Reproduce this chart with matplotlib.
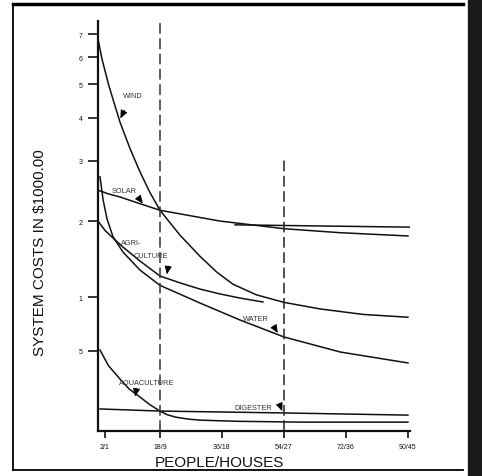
import numpy as np
import matplotlib
matplotlib.use("Agg")
import matplotlib.pyplot as plt
from matplotlib.lines import Line2D
from matplotlib.patches import Rectangle

plt.rcParams['font.family'] = ['Liberation Sans', 'DejaVu Sans']

# people on the x axis, cost (in $1000) on the y axis
wind_x = [0, 1.16, 3.19, 6.39, 9.3, 12.2, 15, 18, 23.8, 29.6, 34.5, 39.2, 46, 54, 64.5, 77, 90]
wind_y = [6.77, 5.92, 4.94, 3.88, 3.25, 2.78, 2.43, 2.15, 1.82, 1.58, 1.42, 1.31, 1.22, 1.16, 1.11, 1.07, 1.05]

solar_x = [0, 3, 6.4, 12, 18, 35.4, 54, 70.3, 90]
solar_y = [2.46, 2.40, 2.35, 2.25, 2.15, 2.00, 1.90, 1.85, 1.81]
solar2_x = [39.8, 90.6]
solar2_y = [1.95, 1.92]

water_x = [0.58, 1.5, 2.61, 4.36, 7.26, 12.2, 18, 29.6, 41.2, 54, 70.3, 90]
water_y = [2.69, 2.30, 2.03, 1.80, 1.625, 1.44, 1.30, 1.155, 1.031, 0.92, 0.832, 0.773]

agri_x = [0, 2, 4.36, 7.26, 12.2, 18, 24, 29.6, 35, 41.2, 47.9]
agri_y = [2.0, 1.88, 1.785, 1.68, 1.53, 1.384, 1.32, 1.268, 1.23, 1.194, 1.163]

aqua_x = [0.58, 3, 6.39, 9, 12.2, 15, 18, 20, 22.4, 26, 29.6, 40, 58.7, 90]
aqua_y = [0.843, 0.76, 0.694, 0.65, 0.615, 0.585, 0.560, 0.547, 0.538, 0.531, 0.527, 0.523, 0.520, 0.520]

dig_x = [0.58, 18, 54, 90]
dig_y = [0.568, 0.560, 0.553, 0.545]

xtick_vals = [2, 18, 36, 54, 72, 90]
xtick_labels = ['2/1', '18/9', '36/18', '54/27', '72/36', '90/45']
ytick_vals = [7, 6, 5, 4, 3, 2, 1.2, 0.84]
ytick_labels = ['7', '6', '5', '4', '3', '2', '1', '5']

fig = plt.figure(figsize=(4.82, 4.77), dpi=100)
ax = fig.add_axes([98/482, 1-432/477, 312/482, 410/477])
ax.set_yscale('log')
ax.set_xlim(0, 90.6)
ax.set_ylim(0.49, 7.64)

for xs, ys in [(wind_x, wind_y), (solar_x, solar_y), (solar2_x, solar2_y),
               (water_x, water_y), (agri_x, agri_y), (aqua_x, aqua_y), (dig_x, dig_y)]:
    ax.plot(xs, ys, color='#111111', lw=1.1)

dash = (0, (7, 3))
ax.plot([18, 18], [0.49, 7.64], color='#333333', lw=1.1, linestyle=dash)
ax.plot([54, 54], [0.49, 3.03], color='#222222', lw=1.1, linestyle=dash)

# curve labels and their little arrowheads
lbl = dict(fontsize=5.3, color='#333333', ha='center', va='center')
ax.text(10.2, 4.65, 'WIND', **lbl)
ax.text(7.6, 2.45, 'SOLAR', **lbl)
ax.text(9.6, 1.737, 'AGRI-', **lbl)
ax.text(15.4, 1.59, 'CULTURE', **lbl)
ax.text(45.9, 1.044, 'WATER', **lbl)
ax.text(14.2, 0.68, 'AQUACULTURE', **lbl)
ax.text(45.0, 0.575, 'DIGESTER', **lbl)

arrows = [((6.5, 3.98), (3, 6)), ((13.0, 2.25), (-3, 4)), ((20.0, 1.40), (1, 6)),
          ((52.2, 0.945), (-3, 5)), ((10.8, 0.617), (1, 6)), ((53.5, 0.560), (-2, 5))]
for tip, off in arrows:
    ax.annotate('', xy=tip, xytext=off, textcoords='offset points',
                arrowprops=dict(arrowstyle='-|>,head_length=0.5,head_width=0.22',
                                color='black', lw=0.6, shrinkA=0, shrinkB=0))

ax.set_xticks(xtick_vals)
ax.set_xticklabels(xtick_labels)
ax.set_yticks(ytick_vals)
ax.set_yticklabels(ytick_labels)
ax.yaxis.set_minor_locator(matplotlib.ticker.NullLocator())
ax.tick_params(axis='both', labelsize=5, colors='#111111', width=1.2)
ax.tick_params(axis='y', length=7, pad=4)
ax.tick_params(axis='x', length=5, pad=4)

for s in ['top', 'right']:
    ax.spines[s].set_visible(False)
for s in ['left', 'bottom']:
    ax.spines[s].set_linewidth(1.6)
    ax.spines[s].set_color('#111111')

fig.text(40/482, 1-253/477, 'SYSTEM COSTS IN \\$1000.00', rotation=90,
         ha='center', va='center', fontsize=11, color='#111111')
fig.text(219/482, 1-463/477, 'PEOPLE/HOUSES', ha='center', va='center',
         fontsize=11, color='#111111')

# scanned page border
def fline(x0, y0, x1, y1, lw):
    fig.add_artist(Line2D([x0/482, x1/482], [1-y0/477, 1-y1/477],
                          transform=fig.transFigure, color='black', lw=lw))

fline(13, 5, 463, 5, 2.5)
fline(13, 5, 13, 471, 1.3)
fline(13, 471, 463, 471, 1.3)
fig.add_artist(Rectangle((468/482, 0), 14/482, 1, transform=fig.transFigure,
                         color='#1a1a1a', zorder=5))

fig.savefig('out.png', dpi=100)
